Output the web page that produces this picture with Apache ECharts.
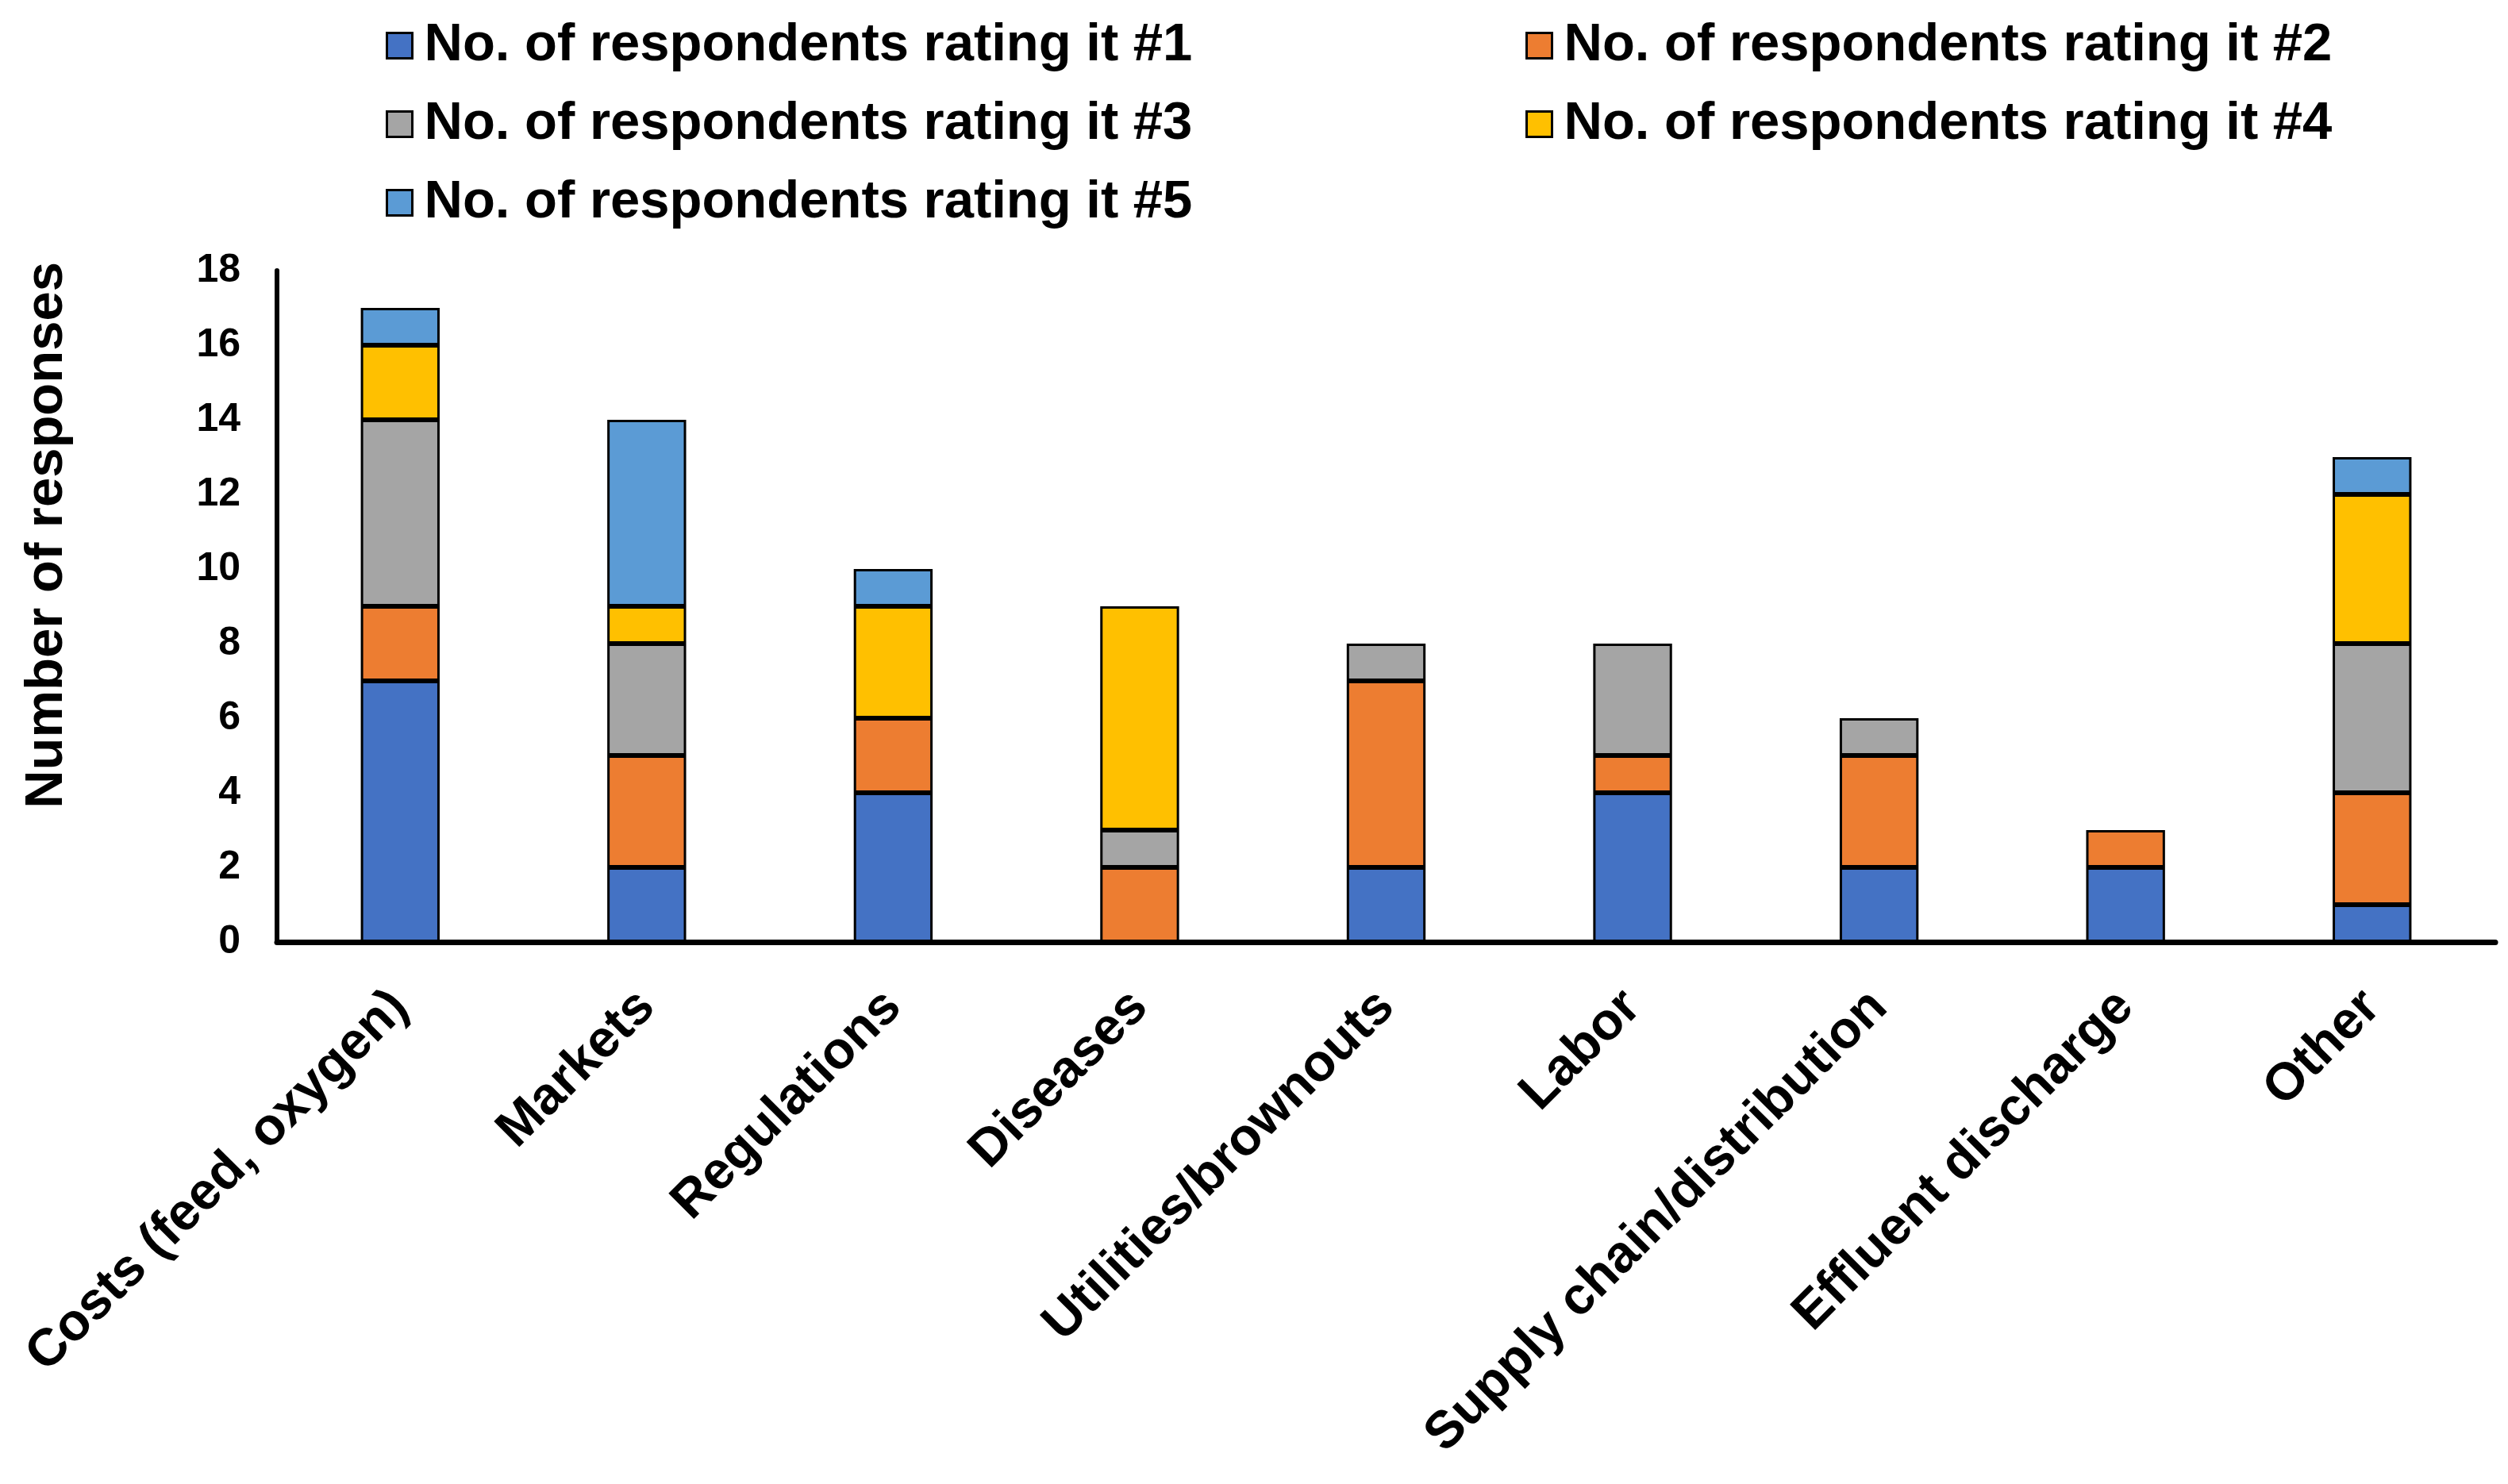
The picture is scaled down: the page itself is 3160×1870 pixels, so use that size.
<!DOCTYPE html>
<html>
<head>
<meta charset="utf-8">
<script src="https://cdn.jsdelivr.net/npm/echarts@6/dist/echarts.min.js"></script>
<style>
html,body{margin:0;padding:0;background:#fff;}
#chart{width:3160px;height:1870px;}
</style>
</head>
<body>
<div id="chart"></div>
<script>
const categories = ["Costs (feed, oxygen)", "Markets", "Regulations", "Diseases", "Utilities/brownouts", "Labor", "Supply chain/distribution", "Effluent discharge", "Other"];
const seriesNames = ["No. of respondents rating it #1", "No. of respondents rating it #2", "No. of respondents rating it #3", "No. of respondents rating it #4", "No. of respondents rating it #5"];
const rank1 = [7, 2, 4, 0, 2, 4, 2, 2, 1];
const rank2 = [2, 3, 2, 2, 5, 1, 3, 1, 3];
const rank3 = [5, 3, 0, 1, 1, 3, 1, 0, 4];
const rank4 = [2, 1, 3, 6, 0, 0, 0, 0, 4];
const rank5 = [1, 5, 1, 0, 0, 0, 0, 0, 1];
const yTicks = [0, 2, 4, 6, 8, 10, 12, 14, 16, 18];
const colors = ["#4472C4", "#ED7D31", "#A5A5A5", "#FFC000", "#5B9BD5"];

const allValues = [rank1, rank2, rank3, rank4, rank5];
const FONT = "'Liberation Sans', Arial, sans-serif";

const series = allValues.map((vals, i) => ({
  name: seriesNames[i],
  type: 'bar',
  stack: 'total',
  barWidth: '32%',
  data: vals.map(v => v === 0 ? '-' : v),
  itemStyle: { color: colors[i], borderColor: '#000', borderWidth: 3 },
  emphasis: { disabled: true }
}));

const legendPos = [
  { left: 486, top: 24 },
  { left: 1922, top: 24 },
  { left: 486, top: 123 },
  { left: 1922, top: 123 },
  { left: 486, top: 222 }
];
const legends = seriesNames.map((n, i) => ({
  data: [n],
  left: legendPos[i].left,
  top: legendPos[i].top,
  icon: 'rect',
  itemWidth: 32,
  itemHeight: 32,
  itemGap: 0,
  padding: 0,
  selectedMode: false,
  itemStyle: { borderColor: '#000', borderWidth: 3 },
  textStyle: { fontFamily: FONT, fontWeight: 'bold', fontSize: 67, color: '#000', padding: [0, 0, 0, 10] }
}));

const chart = echarts.init(document.getElementById('chart'));
chart.setOption({
  animation: false,
  color: colors,
  legend: legends,
  grid: { left: 349, right: 16, top: 341, bottom: 683, containLabel: false },
  xAxis: {
    type: 'category',
    data: categories,
    axisLine: { lineStyle: { color: '#000', width: 7 } },
    axisTick: { show: false },
    axisLabel: {
      interval: 0, rotate: 45, margin: 72,
      fontFamily: FONT, fontWeight: 'bold', fontSize: 66, color: '#000'
    }
  },
  yAxis: {
    type: 'value',
    min: 0, max: 18, interval: 2,
    axisLine: { show: true, lineStyle: { color: '#000', width: 6 } },
    axisTick: { show: false },
    splitLine: { show: false },
    axisLabel: {
      margin: 46,
      fontFamily: FONT, fontWeight: 'bold', fontSize: 50, color: '#000',
      formatter: v => yTicks.includes(v) ? String(v) : ''
    }
  },
  graphic: [{
    type: 'text',
    left: 26,
    top: 330,
    rotation: Math.PI / 2,
    style: {
      text: 'Number of responses',
      fontFamily: FONT, fontWeight: 'bold', fontSize: 67, fill: '#000'
    }
  }],
  series: series
});
</script>
</body>
</html>
